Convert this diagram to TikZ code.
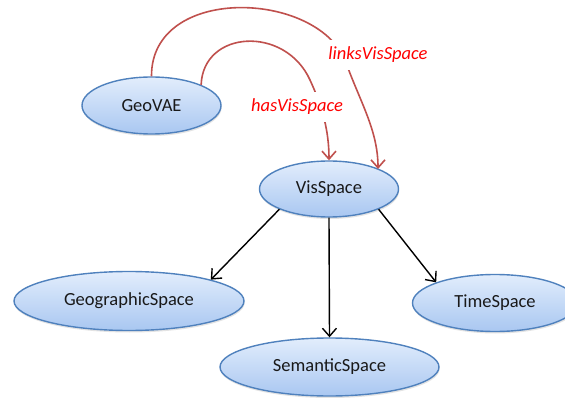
\documentclass[tikz,border=0pt]{standalone}
\usepackage{fontspec}
\setmainfont{Carlito}
\usetikzlibrary{shapes.geometric,arrows.meta,shadows,calc}
\definecolor{ntop}{HTML}{E2EDFC}
\definecolor{nbot}{HTML}{A9C7F1}
\definecolor{nborder}{HTML}{4F81BD}
\definecolor{rline}{HTML}{C0504D}
\definecolor{rlabel}{HTML}{FF0000}
\tikzset{
  oval/.style={ellipse, draw=nborder, line width=1.4pt, top color=ntop, bottom color=nbot,
    inner sep=0pt, font=\fontsize{18.5}{22}\selectfont, text=black!90,
    drop shadow={shadow xshift=0.6pt, shadow yshift=-2pt, opacity=0.22}},
  blackarrow/.style={draw=black, line width=1.4pt, -{Straight Barb[length=8pt,width=14pt,line width=1.4pt]}},
  redarrow/.style={draw=rline, line width=1.6pt, -{Straight Barb[length=8pt,width=14pt,line width=1.6pt]}},
  rellabel/.style={fill=white, text=rlabel, inner xsep=2pt, inner ysep=7pt,
    font=\fontsize{18.5}{22}\selectfont\itshape}
}
\begin{document}
\begin{tikzpicture}[x=1pt,y=-1pt]
\useasboundingbox (0,0) rectangle (565,398);
\clip (0,0) rectangle (565,398);
\fill[white] (0,0) rectangle (565,398);

\node[oval, minimum width=139pt, minimum height=57pt] (geovae) at (151.5,105.5) {GeoVAE};
\node[oval, minimum width=139pt, minimum height=56pt] (visspace) at (329,189) {VisSpace};
\node[oval, minimum width=230pt, minimum height=59pt] (geo) at (129,301) {GeographicSpace};
\node[oval, minimum width=165pt, minimum height=57pt] (time) at (495,303) {TimeSpace};
\node[oval, minimum width=219pt, minimum height=58pt] (sem) at (329.5,367) {SemanticSpace};

% red relations
\draw[redarrow] (geovae.north) .. controls (151,-15) and (315,-10) .. (345,60)
  .. controls (360,102) and (378,130) .. ($(visspace.center)+(49,-20)$);
\draw[redarrow] (geovae.north east) .. controls (203,30) and (285,25) .. (310,80)
  .. controls (322,106) and (329,130) .. (visspace.north);
\node[rellabel] (lnk) at (378,55) {linksVisSpace};
\node[rellabel] (has) at (297,107) {hasVisSpace};

% black arrows
\draw[blackarrow] (visspace.south west) -- (geo.north east);
\draw[blackarrow] (visspace.south) -- (sem.north);
\draw[blackarrow] (visspace.south east) -- (time.north west);
\end{tikzpicture}
\end{document}
